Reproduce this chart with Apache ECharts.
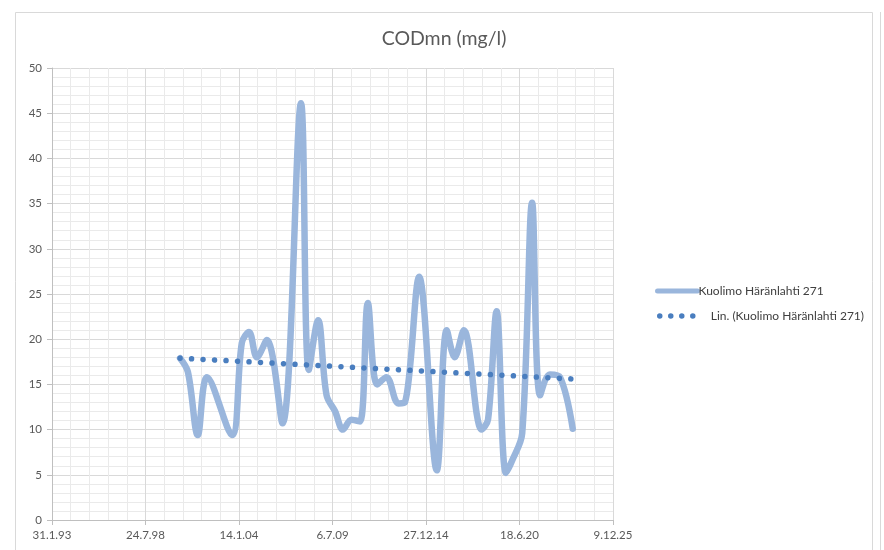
<!DOCTYPE html>
<html>
<head>
<meta charset="utf-8">
<script src="https://cdn.jsdelivr.net/npm/echarts@6/dist/echarts.min.js"></script>
<style>
html,body{margin:0;padding:0;background:#fff;}
#chart{width:884px;height:550px;}
</style>
</head>
<body>
<div id="chart"></div>
<script>
// Sample dates (approx.)
var dates = ['2000-08-01','2001-01-15','2001-08-15','2002-03-01','2003-08-15','2004-03-15','2004-08-15','2005-02-01','2005-09-01','2006-08-01','2007-09-01','2008-02-15','2008-09-01','2009-03-01','2009-09-01','2010-02-15','2010-08-15','2011-02-15','2011-08-01','2012-02-15','2012-09-01','2013-05-15','2013-10-01','2014-08-01','2015-08-15','2016-03-15','2016-09-01','2017-03-15','2018-04-01','2018-08-15','2019-02-15','2019-09-01','2020-01-15','2020-08-15','2021-03-15','2021-09-01','2022-04-01','2022-11-01','2023-08-01'];
var values = [17.9,16.4,9.4,15.8,9.4,19.6,20.8,18.0,19.9,10.7,46.1,16.6,22.1,13.8,12.0,10.0,11.1,10.9,24.0,15.0,15.8,12.9,13.0,26.9,5.5,21.0,18.0,21.0,10.0,11.1,23.1,5.2,6.6,9.6,35.1,13.8,16.1,15.8,10.1];
// Trend line end points
var trendDates = ['2000-08-01','2023-08-01'];
var trendValues = [17.9,15.6];
var xTicks = ['31.1.93','24.7.98','14.1.04','6.7.09','27.12.14','18.6.20','9.12.25'];
var seriesName = 'Kuolimo Häränlahti 271';
var trendName = 'Lin. (Kuolimo Häränlahti 271)';

function toSerial(s){
  var p = s.split('-');
  return Date.UTC(+p[0], +p[1]-1, +p[2]) / 86400000 + 25569;
}
function fmt(serial){
  var d = new Date((serial - 25569) * 86400000);
  return d.getUTCDate() + '.' + (d.getUTCMonth()+1) + '.' + String(d.getUTCFullYear()).slice(2);
}
var mainData = dates.map(function(d,i){ return [toSerial(d), values[i]]; });
var trendData = trendDates.map(function(d,i){ return [toSerial(d), trendValues[i]]; });

var font = 'Lato, "Open Sans", sans-serif';
var mainColor = '#9ab6dc';
var trendColor = '#4a7ebf';
var chart = echarts.init(document.getElementById('chart'), null, {renderer:'canvas'});
chart.setOption({
  backgroundColor:'#ffffff',
  animation:false,
  textStyle:{fontFamily:font},
  title:{
    text:'CODmn (mg/l)', left:439, top:24, textAlign:'center',
    textStyle:{fontFamily:font, fontSize:19.5, fontWeight:'normal', color:'#595959'}
  },
  graphic:[
    {type:'rect', shape:{x:15.5,y:12.5,width:857,height:560}, style:{fill:'none', stroke:'#d9d9d9', lineWidth:1}, z:-10},
    {type:'line', shape:{x1:880.5,y1:12,x2:880.5,y2:550}, style:{stroke:'#d9d9d9', lineWidth:1}, z:-10}
  ],
  legend:[
    {
      orient:'vertical', left:650, top:280, itemWidth:40, itemHeight:10,
      textStyle:{fontFamily:font, fontSize:12, color:'#404040', padding:[0,0,0,-4]},
      data:[{name:seriesName, itemStyle:{opacity:0}, lineStyle:{width:5, color:mainColor}}]
    },
    {
      orient:'vertical', left:652, top:305, itemWidth:40, itemHeight:10,
      textStyle:{fontFamily:font, fontSize:12, color:'#404040', padding:[0,0,0,6]},
      data:[{name:trendName, itemStyle:{opacity:0}, lineStyle:{width:5.5, color:trendColor, type:[0.01,11], cap:'round'}}]
    }
  ],
  grid:{left:52, right:271, top:68, bottom:30, containLabel:false},
  xAxis:{
    type:'value', min:34000, max:46000, interval:2000,
    axisLine:{show:true, lineStyle:{color:'#bfbfbf'}},
    axisTick:{show:true, length:5, lineStyle:{color:'#bfbfbf'}},
    axisLabel:{formatter:function(v){ var i=(v-34000)/2000; return xTicks[i]!==undefined?xTicks[i]:fmt(v); }, color:'#595959', fontSize:11.5, fontFamily:font, margin:9},
    splitLine:{show:true, lineStyle:{color:'#d9d9d9'}},
    minorTick:{show:false, splitNumber:5},
    minorSplitLine:{show:true, lineStyle:{color:'#eaeaea'}}
  },
  yAxis:{
    type:'value', min:0, max:50, interval:5,
    axisLine:{show:true, lineStyle:{color:'#bfbfbf'}},
    axisTick:{show:true, length:5, lineStyle:{color:'#bfbfbf'}},
    axisLabel:{color:'#595959', fontSize:11.5, fontFamily:font, margin:10},
    splitLine:{show:true, lineStyle:{color:'#d9d9d9'}},
    minorTick:{show:false, splitNumber:5},
    minorSplitLine:{show:true, lineStyle:{color:'#eaeaea'}}
  },
  series:[
    {
      name:seriesName, type:'line', data:mainData, smooth:0.35, symbol:'none', showSymbol:false,
      lineStyle:{color:mainColor, width:6.5, cap:'round', join:'round'},
      itemStyle:{color:mainColor}
    },
    {
      name:trendName, type:'line', data:trendData, symbol:'none', showSymbol:false,
      lineStyle:{color:trendColor, width:5.5, type:[0.01,11.5], cap:'round'},
      itemStyle:{color:trendColor}, z:3
    }
  ]
});
</script>
</body>
</html>
